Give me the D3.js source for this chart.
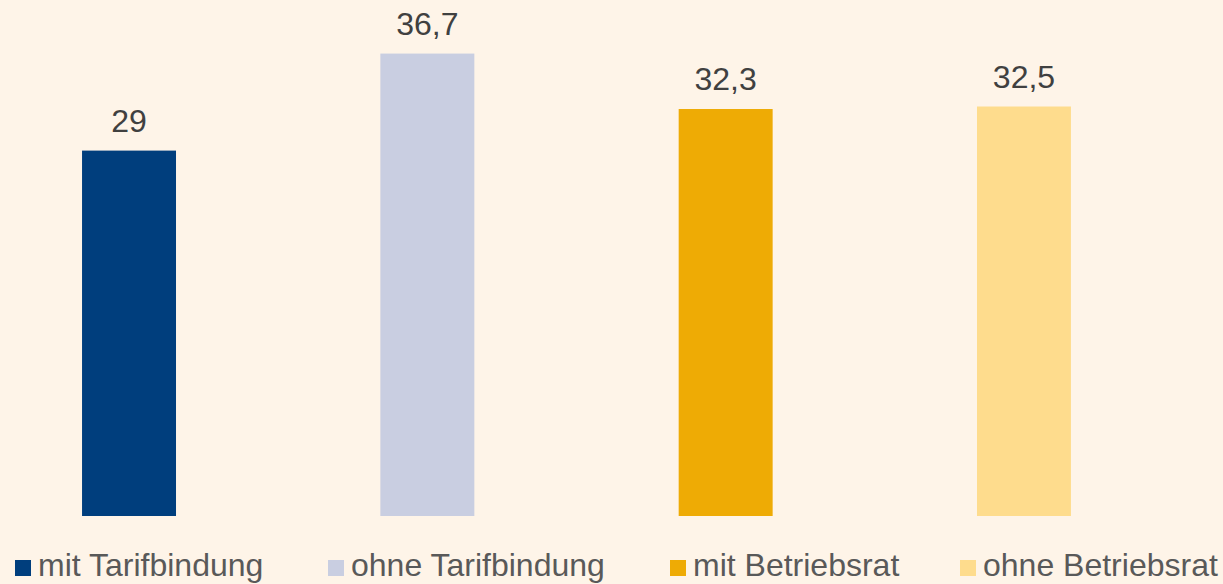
<!DOCTYPE html>
<html lang="de">

<head>
    <meta charset="UTF-8">
    <title>Chart</title>
    <script src="https://d3js.org/d3.v7.min.js"></script>
    <style>
        html, body {
            margin: 0;
            padding: 0;
            background: #FEF4E8;
        }

        svg text {
            font-family: Arial, "Liberation Sans", sans-serif;
        }
    </style>
</head>

<body>

    <svg width="1223" height="584" id="svg1"></svg>

    <script>

        // data
        const categories = ["mit Tarifbindung", "ohne Tarifbindung", "mit Betriebsrat", "ohne Betriebsrat"];
        const values = [29, 36.7, 32.3, 32.5];
        const labels = ["29", "36,7", "32,3", "32,5"];
        const colors = ["#003E7D", "#C9CEE1", "#EEAB05", "#FEDC8D"];

        const svg = d3.select('#svg1');
        const width = +svg.attr('width');
        const height = +svg.attr('height');

        svg.append('rect')
            .attr('width', width)
            .attr('height', height)
            .attr('fill', '#FEF4E8');

        const x = d3.scaleBand()
            .domain(categories)
            .range([0, 1153])
            .paddingInner(0.685)
            .paddingOuter(0.275);

        const y = d3.scaleLinear()
            .domain([0, 40])
            .range([516, 12]);

        const color = d3.scaleOrdinal()
            .domain(categories)
            .range(colors);

        const data = categories.map((c, i) => ({ name: c, value: values[i], label: labels[i] }));

        // bars
        svg.append('g')
            .selectAll('rect')
            .data(data)
            .enter()
            .append('rect')
            .attr('x', d => x(d.name))
            .attr('y', d => y(d.value))
            .attr('width', x.bandwidth())
            .attr('height', d => y(0) - y(d.value))
            .attr('fill', d => color(d.name));

        // value labels
        svg.append('g')
            .selectAll('text')
            .data(data)
            .enter()
            .append('text')
            .attr('x', d => x(d.name) + x.bandwidth() / 2)
            .attr('y', d => y(d.value) - 19)
            .attr('text-anchor', 'middle')
            .attr('font-size', 32)
            .attr('fill', '#404040')
            .text(d => d.label);

        // legend
        const legendX = [15, 328, 670, 960];
        const legend = svg.append('g')
            .selectAll('g')
            .data(data)
            .enter()
            .append('g')
            .attr('transform', (d, i) => `translate(${legendX[i]}, 560)`);

        legend.append('rect')
            .attr('width', 16)
            .attr('height', 16)
            .attr('fill', d => color(d.name));

        legend.append('text')
            .attr('x', 23)
            .attr('y', 16)
            .attr('font-size', 32)
            .attr('fill', '#595959')
            .text(d => d.name);

    </script>

</body>

</html>
